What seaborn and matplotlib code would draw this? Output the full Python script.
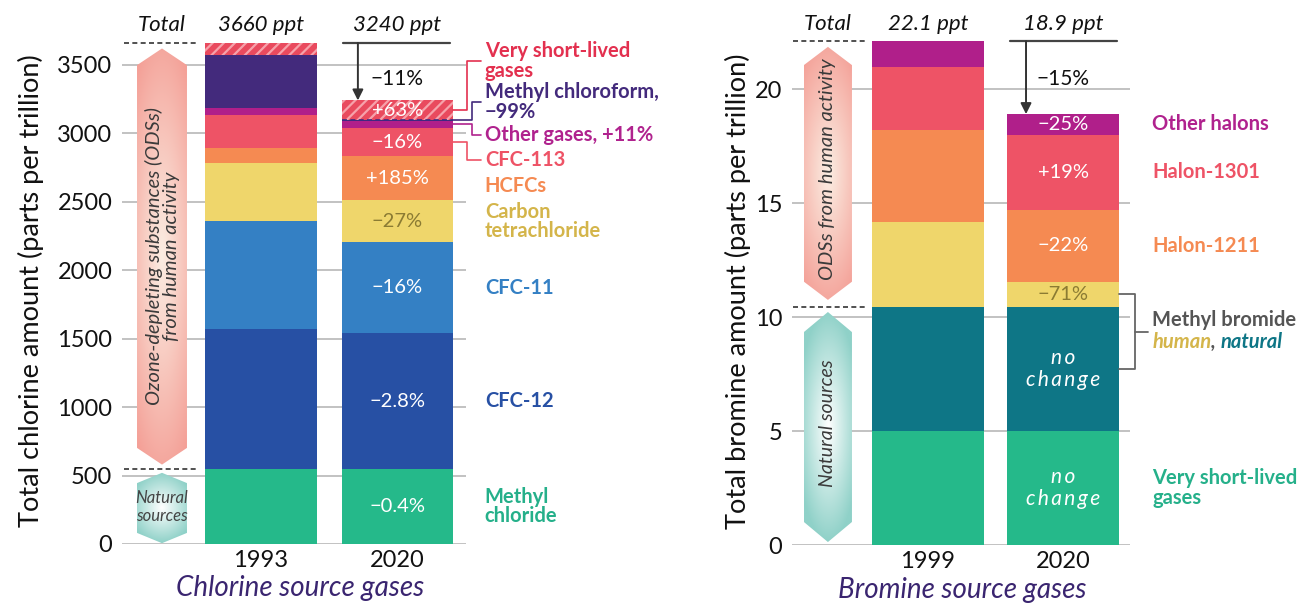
import numpy as np
import pandas as pd
import seaborn as sns
import matplotlib.pyplot as plt
from matplotlib.patches import Polygon

# chlorine source gases (ppt), stacked from the bottom up
cl_years = ['1993', '2020']
cl_gases = ['Methyl chloride', 'CFC-12', 'CFC-11', 'Carbon tetrachloride', 'HCFCs',
            'CFC-113', 'Other gases', 'Methyl chloroform', 'Very short-lived gases']
cl_first = [550, 1020, 790, 420, 115, 240, 50, 385, 90]
cl_last = [548, 990, 665, 310, 320, 205, 55, 5, 142]
cl_change = ['\u22120.4%', '\u22122.8%', '\u221216%', '\u221227%', '+185%', '\u221216%', '', '', '+63%']
cl_labels = ['Methyl\nchloride', 'CFC-12', 'CFC-11', 'Carbon\ntetrachloride', 'HCFCs',
             'CFC-113', 'Other gases, +11%', 'Methyl chloroform,\n\u221299%', 'Very short-lived\ngases']
cl_totals = ['3660 ppt', '3240 ppt']
cl_total_change = '\u221211%'

# bromine source gases (ppt)
br_years = ['1999', '2020']
br_gases = ['Very short-lived gases', 'Methyl bromide natural', 'Methyl bromide human',
            'Halon-1211', 'Halon-1301', 'Other halons']
br_first = [5.0, 5.45, 3.7, 4.05, 2.75, 1.15]
br_last = [5.0, 5.45, 1.1, 3.15, 3.3, 0.9]
br_change = ['no\nchange', 'no\nchange', '\u221271%', '\u221222%', '+19%', '\u221225%']
br_labels = ['Very short-lived\ngases', '', '', 'Halon-1211', 'Halon-1301', 'Other halons']
br_totals = ['22.1 ppt', '18.9 ppt']
br_total_change = '\u221215%'

cl_colors = ['#25b98a', '#2750a4', '#3480c4', '#efd66b', '#f58a52', '#ee5366', '#b01f8a', '#432a7c', '#e94a5e']
cl_text = ['#25b08a', '#2750a4', '#3480c4', '#d4b54a', '#f58a52', '#ee5366', '#b0228e', '#432a7c', '#e3304f']
br_colors = ['#25b98a', '#0e7686', '#efd66b', '#f58a52', '#ee5366', '#b01f8a']
br_text = ['#25b08a', '#0e7686', '#d4b54a', '#f58a52', '#ee5366', '#b0228e']
olive = '#8b7b33'

sns.set_style('white')
plt.rcParams['font.family'] = ['Lato', 'DejaVu Sans']
plt.rcParams['hatch.linewidth'] = 1.6

LAB = 14.5   # legend label size
PCT = 14.5   # percent label size


def spaced(s):
    # letter-spaced text like the original "no change"
    return '\n'.join('\u2009'.join(word) for word in s.split('\n'))


def stacked(ax, years, gases, first, last, colors, width, hatched=None):
    df = pd.DataFrame({'gas': gases * 2,
                       'year': [years[0]] * len(gases) + [years[1]] * len(gases),
                       'amount': first + last})
    df['top'] = df.groupby('year')['amount'].cumsum()
    df['mid'] = df['top'] - df['amount'] / 2
    for gas, c in reversed(list(zip(gases, colors))):
        kw = dict(linewidth=0)
        if gas == hatched:
            kw = dict(hatch='///', edgecolor='#f6a2ab', linewidth=0)
        sns.barplot(data=df[df.gas == gas], x='year', y='top', order=years, color=c,
                    width=width, saturation=1, errorbar=None, ax=ax, zorder=2, **kw)
    return df


def hexagon(ax, cx, hw, y0, y1, tip, inner, outer, ry=0.5, ax_w=0.55):
    pts = [(cx, y0), (cx + hw, y0 + tip), (cx + hw, y1 - tip),
           (cx, y1), (cx - hw, y1 - tip), (cx - hw, y0 + tip)]
    poly = Polygon(pts, closed=True, facecolor='none', edgecolor='none', transform=ax.transData)
    ax.add_patch(poly)
    gx = np.linspace(-1, 1, 80)
    gy = np.linspace(1, -1, 400)
    X, Y = np.meshgrid(gx, gy)
    t = np.clip(np.sqrt(ax_w * X ** 2 + (Y / (2 * ry)) ** 2), 0, 1)
    a = np.array(plt.matplotlib.colors.to_rgb(inner))
    b = np.array(plt.matplotlib.colors.to_rgb(outer))
    img = a[None, None, :] * (1 - t[..., None]) + b[None, None, :] * t[..., None]
    im = ax.imshow(img, extent=(cx - hw, cx + hw, y0, y1), aspect='auto', origin='upper',
                   zorder=1.5, interpolation='bilinear')
    im.set_clip_path(poly)


def setup(ax, ticks, xlim, ylim, ylabel, title, ylab_x, title_x):
    ax.set_xlim(*xlim)
    ax.set_ylim(*ylim)
    ax.set_yticks(ticks)
    ax.yaxis.grid(True, color='#bdbdbd', lw=1.3)
    ax.xaxis.grid(False)
    ax.set_axisbelow(True)
    sns.despine(ax=ax, left=True, bottom=True)
    ax.tick_params(axis='y', labelsize=17, length=0, pad=7, colors='#111111')
    ax.tick_params(axis='x', labelsize=17, length=0, pad=4, colors='#111111')
    ax.set_ylabel(ylabel, fontsize=19.5, color='#111111')
    ax.yaxis.set_label_coords(ylab_x, 0.5)
    ax.set_xlabel(title, fontsize=20, style='italic', color='#3a2570')
    ax.xaxis.set_label_coords(title_x, -0.062)


fig = plt.figure(figsize=(13.04, 6.05), dpi=100)
ax1 = fig.add_axes([122 / 1304, 61 / 605, 344 / 1304, 506.5 / 605])
ax2 = fig.add_axes([792 / 1304, 60 / 605, 338 / 1304, 508.4 / 605])

# ---------------- chlorine ----------------
w1 = 0.82
cl = stacked(ax1, cl_years, cl_gases, cl_first, cl_last, cl_colors, w1, hatched='Very short-lived gases')
c20 = cl[cl.year == '2020'].reset_index(drop=True)
tot1 = sum(cl_first)
tot2 = sum(cl_last)
nat1 = cl_first[0]

# methyl chloroform sliver as dashed line
ax1.plot([1 - w1 / 2, 1 + w1 / 2], [c20.loc[7, 'mid']] * 2, color='#3b2a85', lw=1.2,
         ls=(0, (3, 2)), zorder=3)

for i, txt in enumerate(cl_change):
    if txt:
        ax1.text(1, c20.loc[i, 'mid'], txt, ha='center', va='center', fontsize=PCT,
                 color=olive if cl_colors[i] == '#efd66b' else 'white', zorder=4)

# labels on the right
cl_label_y = [274, 1043, 1870, 2358, 2615, 2805, 2988, 3229, 3528]
elbow = {5: 1.51, 6: 1.545, 7: 1.545, 8: 1.51}
for i, lab in enumerate(cl_labels):
    ax1.text(1.64, cl_label_y[i], lab, ha='left', va='center', fontsize=LAB, fontweight='bold',
             color=cl_text[i], linespacing=0.95, clip_on=False)
    if i in elbow:
        ex = elbow[i]
        ax1.plot([1 + w1 / 2, ex, ex, 1.615], [c20.loc[i, 'mid'], c20.loc[i, 'mid'],
                 cl_label_y[i], cl_label_y[i]], color=cl_text[i], lw=1.2, clip_on=False, zorder=3)

# side arrows
cx1, hw1 = -0.725, 0.183
hexagon(ax1, cx1, hw1, nat1 + 30, tot1 - 40, 122, '#fbeee3', '#f4a097', ry=0.55, ax_w=0.35)
hexagon(ax1, cx1, hw1, 6, nat1 - 30, 75, '#ffffff', '#8fd1c8', ry=0.5, ax_w=0.6)
ax1.text(cx1 + 0.005, (nat1 + tot1) / 2, 'Ozone-depleting substances (ODSs)\nfrom human activity',
         rotation=90, ha='center', va='center', fontsize=14.5, style='italic', color='#3a3a3a',
         linespacing=1.0, zorder=3)
ax1.text(cx1, nat1 / 2 - 5, 'Natural\nsources', ha='center', va='center', fontsize=12,
         style='italic', color='#444444', linespacing=1.1, zorder=3)
for yy in (tot1, nat1):
    ax1.plot([-1.0, -0.46], [yy, yy], color='#333333', lw=1.2, ls=(0, (3, 2)), clip_on=False, zorder=3)

# totals
ax1.annotate('Total', (cx1, tot1), xytext=(0, 13), textcoords='offset points', ha='center',
             va='center', fontsize=16, style='italic', color='#111111')
for k, txt in enumerate(cl_totals):
    ax1.annotate(txt, (k, tot1), xytext=(0, 13), textcoords='offset points', ha='center',
                 va='center', fontsize=16, style='italic', color='#111111')
ax1.plot([0.6, 1.385], [tot1, tot1], color='#444444', lw=1.6, clip_on=False, zorder=3)
ax1.annotate('', xy=(0.71, tot2), xytext=(0.71, tot1),
             arrowprops=dict(arrowstyle='-|>', color='#333333', lw=1.4, shrinkA=0, shrinkB=0,
                             mutation_scale=16), zorder=3)
ax1.text(0.995, 3395, cl_total_change, ha='center', va='center', fontsize=15, color='#111111')

setup(ax1, range(0, 3501, 500), (-1.018, 1.502), (0, 3700),
      'Total chlorine amount (parts per trillion)', 'Chlorine source gases', -0.227, 0.517)

# ---------------- bromine ----------------
w2 = 0.83
br = stacked(ax2, br_years, br_gases, br_first, br_last, br_colors, w2)
b20 = br[br.year == '2020'].reset_index(drop=True)
tot1 = sum(br_first)
tot2 = sum(br_last)
nat1 = br_first[0] + br_first[1]

for i, txt in enumerate(br_change):
    italic = txt.startswith('no')
    ax2.text(1, b20.loc[i, 'mid'], spaced(txt) if italic else txt, ha='center', va='center',
             fontsize=15 if italic else PCT, style='italic' if italic else 'normal',
             linespacing=1.1, color=olive if br_colors[i] == '#efd66b' else 'white', zorder=4)

for i, lab in enumerate(br_labels):
    if lab:
        ax2.text(1.66, b20.loc[i, 'mid'], lab, ha='left', va='center', fontsize=LAB,
                 fontweight='bold', color=br_text[i], linespacing=0.95, clip_on=False)

# methyl bromide bracket
top_b = b20.loc[2, 'mid']
bot_b = b20.loc[1, 'mid']
mid_b = (top_b + bot_b) / 2
ax2.plot([1 + w2 / 2, 1.533, 1.533, 1 + w2 / 2], [top_b, top_b, bot_b, bot_b],
         color='#666666', lw=1.3, clip_on=False, zorder=3)
ax2.plot([1.533, 1.63], [mid_b, mid_b], color='#666666', lw=1.3, clip_on=False, zorder=3)
ax2.text(1.66, mid_b + 0.5, 'Methyl bromide', ha='left', va='center', fontsize=LAB,
         fontweight='bold', color='#555555', clip_on=False)
t1 = ax2.text(1.66, mid_b - 0.45, 'human', ha='left', va='center', fontsize=LAB,
              fontweight='bold', style='italic', color=br_text[2], clip_on=False)
t2 = ax2.annotate(', ', xy=(1, 0.5), xycoords=t1, ha='left', va='center', fontsize=LAB,
                  fontweight='bold', style='italic', color='#555555')
ax2.annotate('natural', xy=(1, 0.5), xycoords=t2, ha='left', va='center', fontsize=LAB,
             fontweight='bold', style='italic', color=br_text[1])

cx2, hw2 = -0.741, 0.178
hexagon(ax2, cx2, hw2, nat1 + 0.3, tot1 - 0.25, 0.8, '#fbeee3', '#f4a097', ry=0.55, ax_w=0.35)
hexagon(ax2, cx2, hw2, 0.13, nat1 - 0.23, 0.88, '#ffffff', '#8fd1c8', ry=0.5, ax_w=0.6)
ax2.text(cx2, (nat1 + tot1) / 2 + 0.2, 'ODSs from human activity', rotation=90, ha='center',
         va='center', fontsize=14.5, style='italic', color='#3a3a3a', zorder=3)
ax2.text(cx2, nat1 / 2 + 0.1, 'Natural sources', rotation=90, ha='center', va='center',
         fontsize=14, style='italic', color='#3a3a3a', zorder=3)
for yy in (tot1, nat1):
    ax2.plot([-1.0, -0.47], [yy, yy], color='#333333', lw=1.2, ls=(0, (3, 2)), clip_on=False, zorder=3)

ax2.annotate('Total', (cx2, tot1), xytext=(0, 12), textcoords='offset points', ha='center',
             va='center', fontsize=16, style='italic', color='#111111')
for k, txt in enumerate(br_totals):
    ax2.annotate(txt, (k, tot1), xytext=(0, 12), textcoords='offset points', ha='center',
                 va='center', fontsize=16, style='italic', color='#111111')
ax2.plot([0.61, 1.40], [tot1, tot1], color='#444444', lw=1.6, clip_on=False, zorder=3)
ax2.annotate('', xy=(0.726, tot2), xytext=(0.726, tot1),
             arrowprops=dict(arrowstyle='-|>', color='#333333', lw=1.4, shrinkA=0, shrinkB=0,
                             mutation_scale=16), zorder=3)
ax2.text(1.0, 20.45, br_total_change, ha='center', va='center', fontsize=15, color='#111111')

setup(ax2, range(0, 21, 5), (-1.007, 1.496), (0, 22.3),
      'Total bromine amount (parts per trillion)', 'Bromine source gases', -0.121, 0.503)

fig.savefig('out.png', dpi=100)
